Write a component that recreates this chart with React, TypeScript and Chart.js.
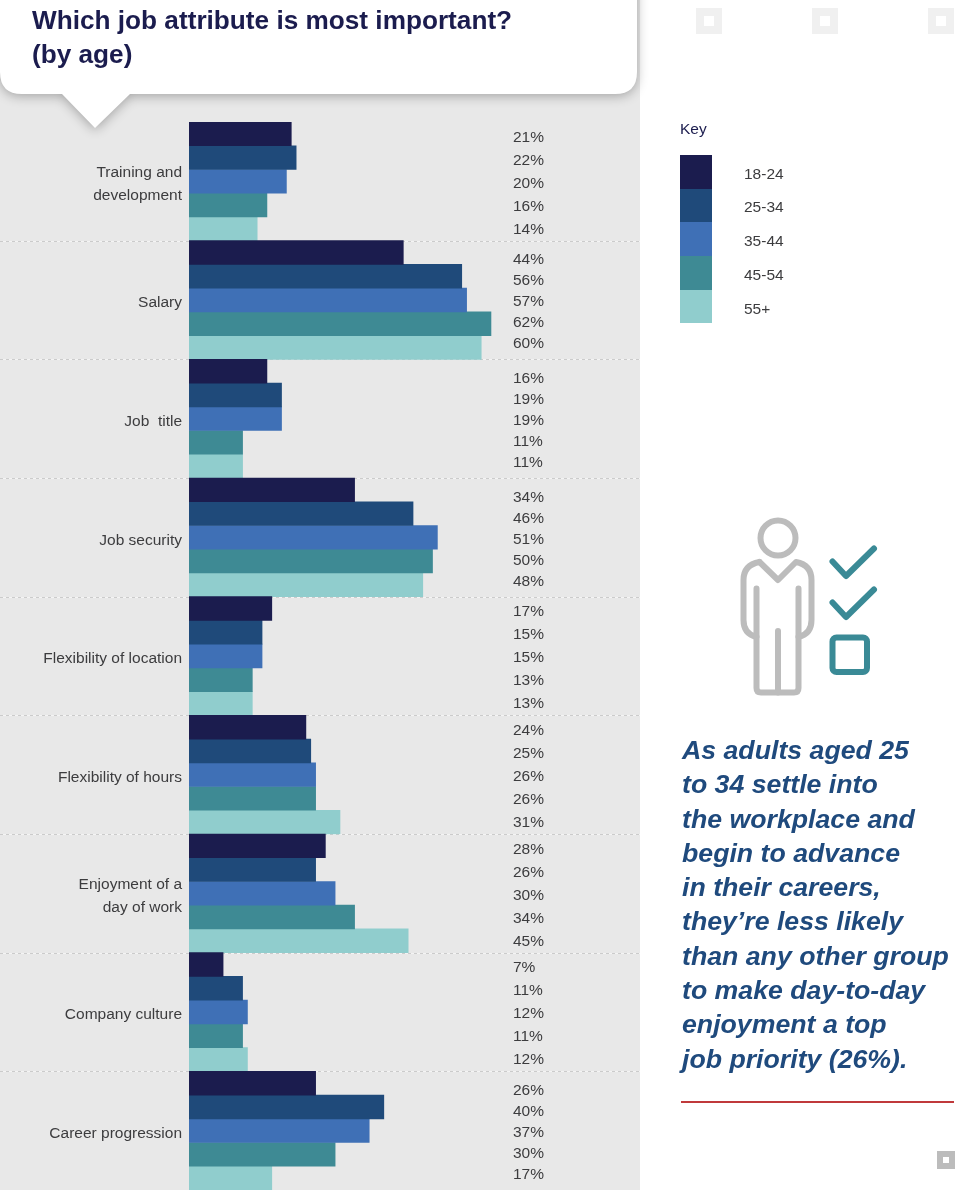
import React, { useEffect, useRef } from "react";
import { Chart, registerables } from "chart.js";

Chart.register(...registerables);

const attributes = [
  ["Training and", "development"],
  "Salary",
  "Job  title",
  "Job security",
  "Flexibility of location",
  "Flexibility of hours",
  ["Enjoyment of a", "day of work"],
  "Company culture",
  "Career progression",
];

const ageGroups = ["18-24", "25-34", "35-44", "45-54", "55+"];
const ageColors = ["#1b1c4e", "#1f4a7a", "#3f70b6", "#3e8a94", "#90cdcd"];

const age18to24 = [21, 44, 16, 34, 17, 24, 28, 7, 26];
const age25to34 = [22, 56, 19, 46, 15, 25, 26, 11, 40];
const age35to44 = [20, 57, 19, 51, 15, 26, 30, 12, 37];
const age45to54 = [16, 62, 11, 50, 13, 26, 34, 11, 30];
const age55plus = [14, 60, 11, 48, 13, 31, 45, 12, 17];
const seriesValues = [age18to24, age25to34, age35to44, age45to54, age55plus];

// the value column is spaced a bit differently from group to group
const labelSteps = [23, 21, 21, 21, 23, 23, 23, 23, 21];

const bodyLines = [
  "As adults aged 25",
  "to 34 settle into",
  "the workplace and",
  "begin to advance",
  "in their careers,",
  "they\u2019re less likely",
  "than any other group",
  "to make day-to-day",
  "enjoyment a top",
  "job priority (26%).",
];

const FONT = '"Liberation Sans", Arial, sans-serif';
const TEXT_COLOR = "#3c3c3e";
const PANEL_WIDTH = 640;
const PANEL_BOTTOM = 1190;

// grey panel and white callout behind the bars
const panelPlugin = {
  id: "panel",
  beforeDraw(chart: any) {
    const { ctx } = chart;
    ctx.save();
    ctx.fillStyle = "#e8e8e8";
    ctx.fillRect(0, 0, PANEL_WIDTH, PANEL_BOTTOM);

    ctx.shadowColor = "rgba(0,0,0,0.3)";
    ctx.shadowBlur = 12;
    ctx.shadowOffsetY = 2;
    ctx.fillStyle = "#ffffff";
    ctx.beginPath();
    ctx.moveTo(-20, -20);
    ctx.lineTo(637, -20);
    ctx.lineTo(637, 72);
    ctx.quadraticCurveTo(637, 94, 615, 94);
    ctx.lineTo(130, 94);
    ctx.lineTo(95, 128);
    ctx.lineTo(62, 94);
    ctx.lineTo(22, 94);
    ctx.quadraticCurveTo(0, 94, 0, 72);
    ctx.lineTo(-20, 72);
    ctx.closePath();
    ctx.fill();
    ctx.restore();
  },
  beforeDatasetsDraw(chart: any) {
    const { ctx, scales } = chart;
    const y = scales.y;
    const band = y.getPixelForValue(1) - y.getPixelForValue(0);
    ctx.save();
    ctx.lineWidth = 1;
    for (let i = 1; i < attributes.length; i++) {
      const py = Math.round(y.getPixelForValue(i) - band / 2) + 0.5;
      // pale line under grey dashes, the separators look dotted on white
      ctx.strokeStyle = "#f4f4f4";
      ctx.setLineDash([]);
      ctx.beginPath();
      ctx.moveTo(0, py);
      ctx.lineTo(PANEL_WIDTH, py);
      ctx.stroke();
      ctx.strokeStyle = "#cbcbcb";
      ctx.setLineDash([3, 3]);
      ctx.beginPath();
      ctx.moveTo(0, py);
      ctx.lineTo(PANEL_WIDTH, py);
      ctx.stroke();
    }
    ctx.restore();
  },
};

// percentages in a column on the right of the bars
const valueColumnPlugin = {
  id: "valueColumn",
  afterDatasetsDraw(chart: any) {
    const { ctx, scales } = chart;
    ctx.save();
    ctx.font = `15.5px ${FONT}`;
    ctx.fillStyle = TEXT_COLOR;
    ctx.textAlign = "left";
    ctx.textBaseline = "middle";
    attributes.forEach((_, i) => {
      const centre = scales.y.getPixelForValue(i) + 2;
      seriesValues.forEach((series, s) => {
        ctx.fillText(`${series[i]}%`, 513, centre + (s - 2) * labelSteps[i]);
      });
    });
    ctx.restore();
  },
};

const abs = (left: number, top: number): React.CSSProperties => ({
  position: "absolute",
  left,
  top,
});

const Marker = ({ x, y, size, inner, color }: any) => (
  <div style={{ ...abs(x, y), width: size, height: size, background: color }}>
    <div
      style={{
        ...abs((size - inner) / 2, (size - inner) / 2),
        width: inner,
        height: inner,
        background: "#fff",
      }}
    />
  </div>
);

const PersonIcon = () => (
  <svg
    width={160}
    height={190}
    viewBox="730 510 160 190"
    style={abs(730, 510)}
    fill="none"
    strokeWidth={6}
    strokeLinecap="round"
    strokeLinejoin="round"
  >
    <g stroke="#bcbcbc">
      <circle cx={778} cy={538} r={17.5} />
      <path d="M759.5 562 L778 580 L796 562 Q811.5 565 811.5 580 L811.5 620 Q811.5 634 798.5 637" />
      <path d="M759.5 562 Q743.5 565 743.5 580 L743.5 620 Q743.5 634 756.5 637" />
      <path d="M756.5 588.5 L756.5 688 Q756.5 692.5 761 692.5 L794 692.5 Q798.5 692.5 798.5 688 L798.5 588.5" />
      <path d="M778 631 L778 692.5" />
    </g>
    <g stroke="#3a8a96">
      <path d="M832.5 561.5 L846 576 L874 548.5" />
      <path d="M832.5 602.5 L846 617 L874 589.5" />
      <rect x={832.5} y={637.5} width={34.5} height={34.5} rx={4} />
    </g>
  </svg>
);

const App: React.FC = () => {
  const chartRef = useRef<HTMLCanvasElement | null>(null);

  useEffect(() => {
    if (!chartRef.current) return;
    const chart = new Chart(chartRef.current, {
      type: "bar",
      data: {
        labels: attributes,
        datasets: ageGroups.map((name, i) => ({
          label: name,
          data: seriesValues[i],
          backgroundColor: ageColors[i],
          categoryPercentage: 1,
          barPercentage: 1,
        })),
      },
      options: {
        indexAxis: "y",
        responsive: false,
        animation: false,
        layout: { padding: { top: 122, bottom: 10, right: 340, left: 0 } },
        plugins: {
          legend: { display: false },
          title: { display: false },
          tooltip: { enabled: false },
        },
        scales: {
          x: { display: false, min: 0, max: 92.6 },
          y: {
            afterFit: (scale: any) => {
              // fixed gutter; no extra room for the two-line label at the ends
              scale.width = 189;
              scale.paddingTop = 0;
              scale.paddingBottom = 0;
            },
            grid: { display: false, drawTicks: false },
            border: { display: false },
            ticks: {
              autoSkip: false,
              padding: 7,
              labelOffset: 3,
              color: TEXT_COLOR,
              font: { family: FONT, size: 15.5, lineHeight: 1.48 },
            },
          },
        },
      } as any,
      plugins: [panelPlugin, valueColumnPlugin],
    });
    return () => chart.destroy();
  }, []);

  return (
    <div
      style={{
        position: "relative",
        width: 980,
        height: 1200,
        overflow: "hidden",
        background: "#fff",
        fontFamily: FONT,
      }}
    >
      <style>{"body{margin:0}"}</style>
      <canvas ref={chartRef} width={980} height={1200} style={{ display: "block" }} />

      <div
        style={{
          ...abs(32, 3),
          color: "#1b1c4e",
          fontSize: 26.2,
          fontWeight: 700,
          lineHeight: "34px",
          whiteSpace: "nowrap",
        }}
      >
        <div>Which job attribute is most important?</div>
        <div>(by age)</div>
      </div>

      {[696, 812, 928].map((x) => (
        <Marker key={x} x={x} y={8} size={26} inner={10} color="#f0f0f0" />
      ))}
      <Marker x={937} y={1151} size={18} inner={6} color="#bcbcbc" />

      <div style={{ ...abs(680, 120), color: "#1b1c4e", fontSize: 15.5 }}>Key</div>
      {ageGroups.map((name, i) => (
        <React.Fragment key={name}>
          <div
            style={{
              ...abs(680, 155 + i * 33.7),
              width: 32,
              height: 33.7,
              background: ageColors[i],
            }}
          />
          <div
            style={{
              ...abs(744, 164.5 + i * 33.9),
              color: TEXT_COLOR,
              fontSize: 15.5,
            }}
          >
            {name}
          </div>
        </React.Fragment>
      ))}

      <PersonIcon />

      <div
        style={{
          ...abs(682, 733),
          color: "#1f4a7d",
          fontSize: 26.7,
          fontWeight: 700,
          fontStyle: "italic",
          lineHeight: "34.3px",
          whiteSpace: "nowrap",
        }}
      >
        {bodyLines.map((line) => (
          <div key={line}>{line}</div>
        ))}
      </div>

      <div style={{ ...abs(681, 1101), width: 273, height: 2, background: "#c0393b" }} />
    </div>
  );
};

export default App;
